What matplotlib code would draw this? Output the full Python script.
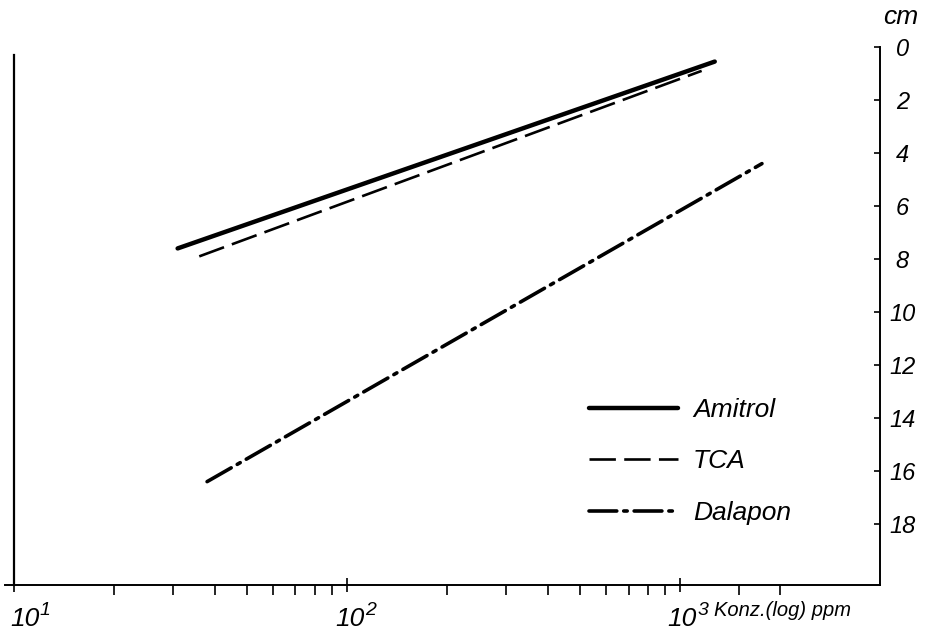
import matplotlib
matplotlib.use("Agg")
import matplotlib.pyplot as plt
import matplotlib.transforms as mtransforms
from matplotlib.ticker import FixedLocator, NullFormatter

FONT = 'Liberation Sans'
plt.rcParams['font.family'] = [FONT, 'DejaVu Sans']
plt.rcParams['font.style'] = 'italic'
plt.rcParams['lines.scale_dashes'] = False

# Data (concentration ppm, depth cm)
series_names = ["Amitrol", "TCA", "Dalapon"]
amitrol_x = [31, 1270]
amitrol_y = [7.6, 0.55]
tca_x = [36, 1160]
tca_y = [7.9, 0.9]
dalapon_x = [38, 1760]
dalapon_y = [16.4, 4.4]

y_ticks = [0, 2, 4, 6, 8, 10, 12, 14, 16, 18]
x_major = [10, 100, 1000]
x_major_base = ["10", "10", "10"]
x_major_exp = ["1", "2", "3"]
x_minor = [20, 30, 40, 50, 60, 70, 80, 90, 200, 300, 400, 500, 600, 700, 800, 900, 1500, 2000]

fig = plt.figure(figsize=(9.25, 6.33), dpi=100)
ax = fig.add_axes([5/925, 48/633, 875/925, 538/633])
ax.set_xscale('log')
ax.set_xlim(9.4, 3980)
ax.set_ylim(20.3, 0)

ax.plot(amitrol_x, amitrol_y, color='black', lw=3.2, solid_capstyle='round', label=series_names[0])
ax.plot(tca_x, tca_y, color='black', lw=1.9, dashes=(19, 6), dash_capstyle='butt', label=series_names[1])
ax.plot(dalapon_x, dalapon_y, color='black', lw=2.6, dashes=(20, 5, 2.5, 5), dash_capstyle='round',
        solid_capstyle='round', label=series_names[2])

# left vertical line at 10^1
ax.plot([10, 10], [0.3, 20.3], color='black', lw=1.6, clip_on=False)

for s in ['top', 'left']:
    ax.spines[s].set_visible(False)
ax.spines['bottom'].set_linewidth(1.4)
ax.spines['right'].set_linewidth(1.4)

ax.yaxis.set_ticks_position('right')
ax.set_yticks(y_ticks)
ax.set_yticklabels([str(v) for v in y_ticks], ha='center')
ax.tick_params(axis='y', direction='in', length=4, width=1.2, pad=16, labelsize=17)

ax.xaxis.set_major_locator(FixedLocator(x_major))
ax.xaxis.set_major_formatter(NullFormatter())
ax.xaxis.set_minor_locator(FixedLocator(x_minor))
ax.xaxis.set_minor_formatter(NullFormatter())
ax.tick_params(axis='x', which='major', direction='inout', length=10, width=1.2)
ax.tick_params(axis='x', which='minor', direction='out', length=7, width=1.2)

xtrans = mtransforms.blended_transform_factory(ax.transData, ax.transAxes)
label_dx = [-4, -12, -13]
for xv, base, ex, dx in zip(x_major, x_major_base, x_major_exp, label_dx):
    off = mtransforms.ScaledTranslation(dx/100, -41/100, fig.dpi_scale_trans)
    t = ax.text(xv, 0, base, transform=xtrans + off, fontsize=19, ha='left', va='baseline')
    off2 = mtransforms.ScaledTranslation((dx + 30)/100, -30/100, fig.dpi_scale_trans)
    ax.text(xv, 0, ex, transform=xtrans + off2, fontsize=14, ha='left', va='baseline')

fig.text(883/925, 1 - 24/633, "cm", fontsize=19, ha='left', va='baseline')
fig.text(714/925, 1 - 616/633, "Konz.(log) ppm", fontsize=14.5, ha='left', va='baseline')

leg = ax.legend(loc='upper left', bbox_to_anchor=(565/925, 1 - 374/633), bbox_transform=fig.transFigure,
                frameon=False, handlelength=3.4, handletextpad=0.55, labelspacing=1.05,
                prop={'size': 19, 'style': 'italic'})

fig.savefig("out.png", dpi=100)
